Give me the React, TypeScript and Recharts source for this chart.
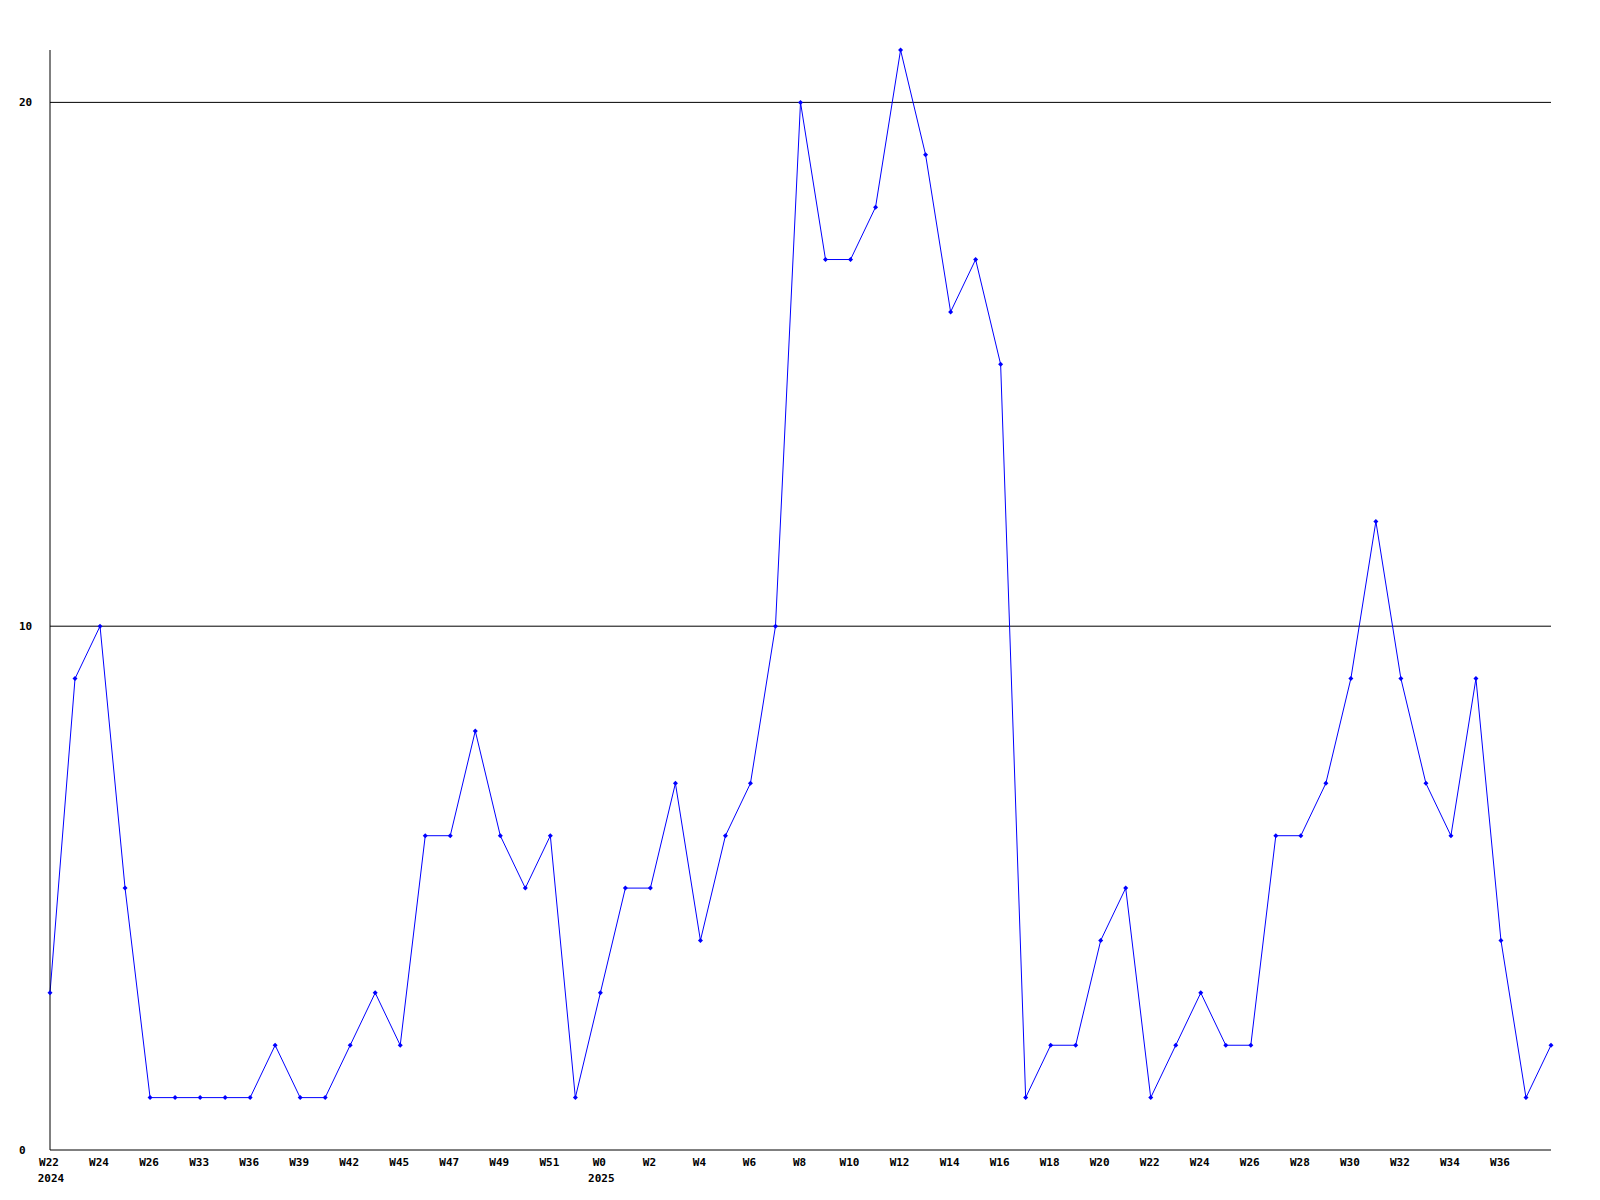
import { LineChart, Line, XAxis, YAxis, ReferenceLine } from "recharts";

// week labels, one per point (only every other one is drawn on the axis)
const weeks = [
  "W22", "W23", "W24", "W25", "W26", "W27", "W33", "W35", "W36", "W38",
  "W39", "W41", "W42", "W44", "W45", "W46", "W47", "W48", "W49", "W50",
  "W51", "W52", "W0", "W1", "W2", "W3", "W4", "W5", "W6", "W7",
  "W8", "W9", "W10", "W11", "W12", "W13", "W14", "W15", "W16", "W17",
  "W18", "W19", "W20", "W21", "W22", "W23", "W24", "W25", "W26", "W27",
  "W28", "W29", "W30", "W31", "W32", "W33", "W34", "W35", "W36", "W37",
  "W38",
];

// year shown under the first week of each year
const years = [
  "2024", "", "", "", "", "", "", "", "", "",
  "", "", "", "", "", "", "", "", "", "",
  "", "", "2025", "", "", "", "", "", "", "",
  "", "", "", "", "", "", "", "", "", "",
  "", "", "", "", "", "", "", "", "", "",
  "", "", "", "", "", "", "", "", "", "",
  "",
];

const counts = [
  3, 9, 10, 5, 1, 1, 1, 1, 1, 2,
  1, 1, 2, 3, 2, 6, 6, 8, 6, 5,
  6, 1, 3, 5, 5, 7, 4, 6, 7, 10,
  20, 17, 17, 18, 21, 19, 16, 17, 15, 1,
  2, 2, 4, 5, 1, 2, 3, 2, 2, 6,
  6, 7, 9, 12, 9, 7, 6, 9, 4, 1,
  2,
];

const yTicks = [0, 10, 20];
const gridValues = [10, 20];

const data = weeks.map((w, i) => ({ idx: i, week: w, year: years[i], value: counts[i] }));

// every other week gets a label, the last two points have none
const xTicks = data.filter((d) => d.idx % 2 === 0 && d.idx < data.length - 1).map((d) => d.idx);

const FONT = "'DejaVu Sans Mono', 'Liberation Mono', monospace";

function WeekTick(props: any) {
  const { x, y, payload } = props;
  const d = data[payload.value];
  if (!d) return null;
  return (
    <g>
      <text x={x - 1} y={y + 16} textAnchor="middle" fontFamily={FONT} fontWeight="bold" fontSize={11} fill="#000">
        {d.week}
      </text>
      {d.year ? (
        <text x={x + 1} y={y + 32} textAnchor="middle" fontFamily={FONT} fontWeight="bold" fontSize={11} fill="#000">
          {d.year}
        </text>
      ) : null}
    </g>
  );
}

function ValueTick(props: any) {
  const { y, payload } = props;
  return (
    <text x={19} y={y + 4} textAnchor="start" fontFamily={FONT} fontWeight="bold" fontSize={11} fill="#000">
      {payload.value}
    </text>
  );
}

function Marker(props: any) {
  const { cx, cy, index } = props;
  if (cx == null || cy == null) return null;
  return (
    <path
      key={index}
      d={`M${cx} ${cy - 2.5} L${cx + 2.5} ${cy} L${cx} ${cy + 2.5} L${cx - 2.5} ${cy} Z`}
      fill="#0000ff"
      stroke="none"
    />
  );
}

export default function App() {
  return (
    <div style={{ position: "absolute", left: 0, top: 0, width: 1600, height: 1200, background: "#fff" }}>
      <LineChart width={1600} height={1200} data={data} margin={{ top: 50, right: 49, left: 0, bottom: 0 }}>
        <XAxis
          dataKey="idx"
          type="category"
          ticks={xTicks}
          interval={0}
          height={50}
          tickLine={false}
          tickSize={0}
          tickMargin={0}
          axisLine={{ stroke: "#000", strokeWidth: 1 }}
          tick={<WeekTick />}
        />
        <YAxis
          type="number"
          domain={[0, 21]}
          ticks={yTicks}
          width={50}
          tickLine={false}
          tickSize={0}
          tickMargin={0}
          axisLine={{ stroke: "#000", strokeWidth: 1 }}
          tick={<ValueTick />}
        />
        {gridValues.map((v) => (
          <ReferenceLine key={v} y={v} stroke="#000" strokeWidth={1} ifOverflow="extendDomain" />
        ))}
        <Line
          type="linear"
          dataKey="value"
          stroke="#0000ff"
          strokeWidth={1}
          dot={<Marker />}
          activeDot={false}
          isAnimationActive={false}
        />
      </LineChart>
    </div>
  );
}
